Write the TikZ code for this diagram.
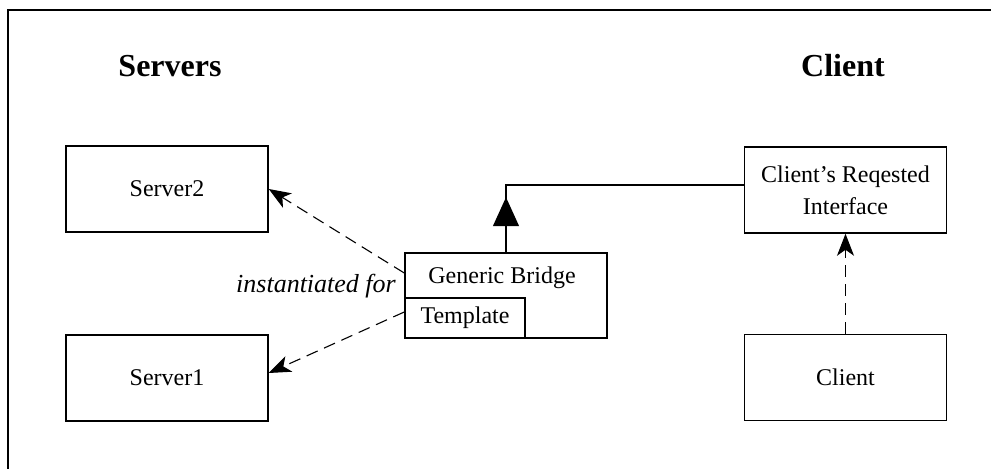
\documentclass[tikz,border=0pt]{standalone}
\usepackage{fontspec}
\setmainfont{Liberation Serif}
\usetikzlibrary{arrows.meta}

\tikzset{
  box/.style={draw, line width=0.75pt, minimum width=101pt, minimum height=43pt,
              inner sep=0pt, font=\fontsize{12}{16}\selectfont, align=center},
  dep/.style={line width=0.55pt, dash pattern=on 6pt off 3.5pt,
              -{Stealth[length=11pt,width=8.5pt,inset=3pt]}},
  title/.style={font=\fontsize{16}{19}\selectfont\bfseries}
}

\begin{document}
\begin{tikzpicture}[x=0.5pt,y=-0.5pt]
\useasboundingbox (0,0) rectangle (991,469);
% frame
\draw [line width=0.75pt] (8,469) -- (8,10) -- (991,10);

\node [title] (servers) at (170,66) {Servers};
\node [title] (clienttitle) at (843,66) {Client};

\node [box] (s2) at (167,189) {Server2};
\node [box] (s1) at (167,378) {Server1};

\node [box] (req) at (845.5,190) {Client’s Reqested\\Interface};
\node [box] (client) at (845.5,377.5) {Client};

% generic bridge with template
\node [box, minimum height=42.5pt] (bridge) at (506,295.5) {};
\node [font=\fontsize{12}{14}\selectfont] (bridgelabel) at (502,278) {Generic Bridge};
\node [draw, line width=0.75pt, anchor=south west, minimum width=60pt, minimum height=20pt,
       inner sep=0pt, font=\fontsize{12}{14}\selectfont] (tmpl) at (bridge.south west) {Template};

\draw [line width=0.75pt] (bridge.north) |- ([yshift=2.5pt]req.west);
\draw [line width=0.75pt, -{Triangle[length=14.5pt,width=13pt]}] (bridge.north) -- ++(0,-55);

\draw [dep] ([yshift=11.25pt]bridge.west) -- (s2.east);
\draw [dep] ([yshift=-8.25pt]bridge.west) -- ([yshift=2.5pt]s1.east);
\node [font=\fontsize{13}{15}\selectfont\itshape] (inst) at (316,286) {instantiated for};

\draw [dep] (client) -- (req);
\end{tikzpicture}
\end{document}
